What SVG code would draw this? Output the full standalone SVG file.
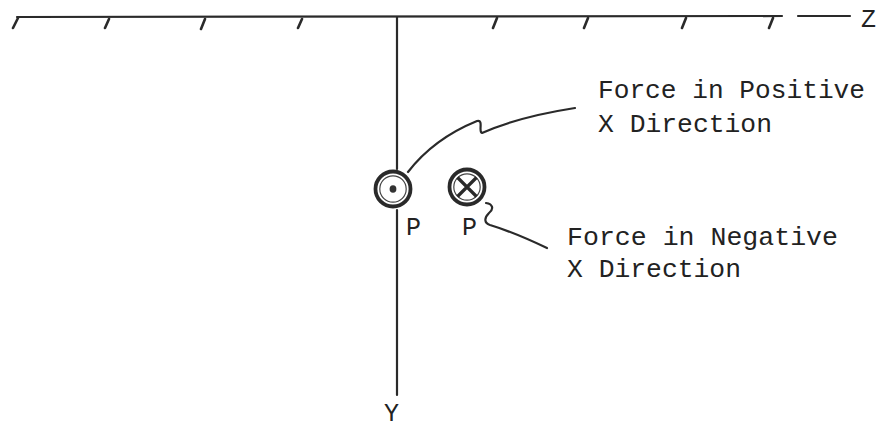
<svg xmlns="http://www.w3.org/2000/svg" width="895" height="430" viewBox="0 0 895 430">
<style>
.ln{stroke:#2a2a2a;stroke-width:2.2;fill:none;stroke-linecap:round;stroke-linejoin:round}
.tk{stroke:#2a2a2a;stroke-width:2.6;fill:none;stroke-linecap:round}
.t{font-family:"Liberation Mono","Courier New",monospace;font-size:25px;fill:#222}
</style>
<rect width="895" height="430" fill="#fff"/>
<g id="ground">
<path class="ln" d="M17 17 L782 16"/>
<path class="tk" d="M18 18 L13 28 M109 19 L105 28 M205 19 L201 29 M302 19 L298 28 M497 18 L493 28 M588 18 L584 28 M686 18 L682 28 M773 18 L769 28"/>
<path class="ln" d="M798 16 L850 16"/>
<text class="t" x="861" y="27">Z</text>
</g>
<g id="axis">
<path class="ln" d="M397 17 L397 169 M397 210 L397 395"/>
<text class="t" x="384" y="421">Y</text>
</g>
<g id="dot-node">
<circle cx="393" cy="189" r="17.5" fill="none" stroke="#2a2a2a" stroke-width="3.8"/>
<circle cx="393" cy="189" r="13.2" fill="none" stroke="#444" stroke-width="1.2"/>
<ellipse cx="393" cy="189" rx="3.4" ry="3.8" fill="#333"/>
<text class="t" x="406" y="235">P</text>
</g>
<g id="cross-node">
<circle cx="467" cy="187" r="17.5" fill="none" stroke="#2a2a2a" stroke-width="3.8"/>
<circle cx="467" cy="187" r="13.2" fill="none" stroke="#444" stroke-width="1.2"/>
<path d="M457.5 177.5 L476.5 196.5 M476.5 177.5 L457.5 196.5" stroke="#2a2a2a" stroke-width="3.2" fill="none"/>
<text class="t" x="462" y="235">P</text>
</g>
<g id="connectors">
<path class="ln" d="M408 172 C425 150 450 132 477 121 C484 119 478 132 482 133 C500 125 530 115 575 108"/>
<path class="ln" d="M486 203 C493 204 494 209 489 213 C484 218 484 223 490 225 C510 231 530 240 547 248"/>
</g>
<g id="label-positive">
<text class="t" x="598" y="98" textLength="267" lengthAdjust="spacingAndGlyphs">Force in Positive</text>
<text class="t" x="598" y="132" textLength="174" lengthAdjust="spacingAndGlyphs">X Direction</text>
</g>
<g id="label-negative">
<text class="t" x="567" y="245" textLength="271" lengthAdjust="spacingAndGlyphs">Force in Negative</text>
<text class="t" x="567" y="277" textLength="174" lengthAdjust="spacingAndGlyphs">X Direction</text>
</g>
</svg>
